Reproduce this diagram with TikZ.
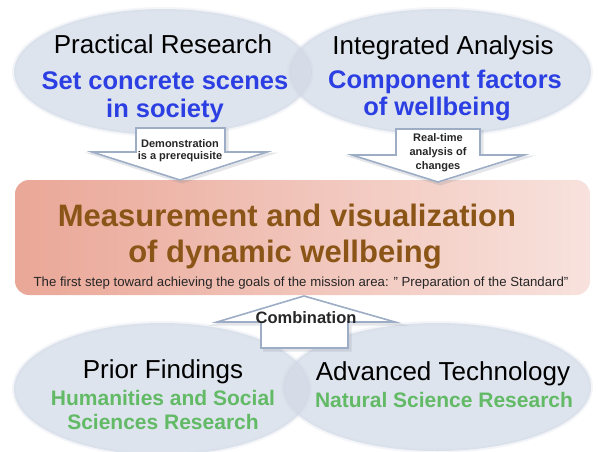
\documentclass[tikz,border=0pt]{standalone}
\usepackage{fontspec}
\setmainfont{Liberation Sans}
\usetikzlibrary{shapes.geometric}

\definecolor{ellcol}{HTML}{D2DAE7}
\definecolor{bluetxt}{HTML}{2B3FE3}
\definecolor{greentxt}{HTML}{62BA66}
\definecolor{browntxt}{HTML}{8A5517}
\definecolor{arrline}{HTML}{9DADC6}
\definecolor{boxleft}{HTML}{EAA797}
\definecolor{boxright}{HTML}{F8E2DD}

\tikzset{
  bubble/.style={ellipse, inner sep=0pt, draw=none, fill=ellcol, fill opacity=0.72},
  bubblerim/.style={ellipse, inner sep=0pt, draw=ellcol, line width=4pt, draw opacity=0.25, fill=none},
  headtxt/.style={anchor=base, text=black, font=\fontsize{26}{30}\selectfont},
  bluetext/.style={anchor=base, text=bluetxt, font=\fontsize{25.5}{30}\selectfont\bfseries},
  greentext/.style={anchor=base, text=greentxt, font=\fontsize{21}{25}\selectfont\bfseries},
  titletxt/.style={anchor=base, text=browntxt, font=\fontsize{31}{36}\selectfont\bfseries},
  subtxt/.style={anchor=base, text=black!85, font=\fontsize{13.2}{15}\selectfont},
  arrowtxt/.style={align=center, text=black!85, inner sep=0pt},
  blockarrow/.style={draw=arrline, line width=1.6pt, fill=white, line join=miter},
  arrowshade/.style={draw=arrline!70!black, line width=3pt, draw opacity=0.18},
}

\begin{document}
\begin{tikzpicture}[x=1pt, y=-1pt]
  \useasboundingbox (0,0) rectangle (598,451);
  \fill[white] (0,0) rectangle (598,451);

  % upper bubbles
  \node[bubble, minimum width=298, minimum height=126] (prac) at (163,72) {};
  \node[bubblerim, minimum width=298, minimum height=126] (pracrim) at (163,72) {};
  \node[headtxt] (pracA) at (163,53) {Practical Research};
  \node[bluetext] (pracB) at (165,89) {Set concrete scenes};
  \node[bluetext] (pracC) at (165,117) {in society};

  \node[bubble, minimum width=302, minimum height=126] (integ) at (440,72) {};
  \node[bubblerim, minimum width=302, minimum height=126] (integrim) at (440,72) {};
  \node[headtxt] (integA) at (443,54) {Integrated Analysis};
  \node[bluetext] (integB) at (445,88) {Component factors};
  \node[bluetext] (integC) at (437,115) {of wellbeing};

  % lower bubbles
  \node[bubble, minimum width=296, minimum height=132] (prior) at (162,389) {};
  \node[bubblerim, minimum width=296, minimum height=132] (priorrim) at (162,389) {};
  \node[headtxt] (priorA) at (163,378) {Prior Findings};
  \node[greentext] (priorB) at (163,405) {Humanities and Social};
  \node[greentext] (priorC) at (163,429) {Sciences Research};

  \node[bubble, minimum width=308, minimum height=128] (adv) at (437,387) {};
  \node[bubblerim, minimum width=308, minimum height=128] (advrim) at (437,387) {};
  \node[headtxt] (advA) at (443,380) {Advanced Technology};
  \node[greentext] (advB) at (444,407) {Natural Science Research};

  % central panel
  \shade[left color=boxleft, right color=boxright, rounded corners=14pt]
    (15,180) rectangle (590,295);
  \node[titletxt] (titleA) at (287,226) {Measurement and visualization};
  \node[titletxt] (titleB) at (285,262) {of dynamic wellbeing};
  \node[subtxt] (titleC) at (301,286) {The first step toward achieving the goals of the mission area: " Preparation of the Standard"};

  % block arrow: demonstration
  \draw[arrowshade] (137,130) -- (227,130) -- (227,154) -- (269,154) -- (182,182) -- (94,154) -- (137,154);
  \draw[blockarrow] (136,128) -- (225,128) -- (225,152) -- (267,152) -- (180,180) -- (92,152) -- (136,152) -- cycle;
  \node[arrowtxt, font=\fontsize{11}{12}\selectfont\bfseries] (demo) at (180,151) {Demonstration\\is a prerequisite};

  % block arrow: real-time analysis
  \draw[arrowshade] (398,131) -- (482,131) -- (482,157) -- (526,157) -- (440,184) -- (354,157) -- (398,157);
  \draw[blockarrow] (396,129) -- (480,129) -- (480,155) -- (524,155) -- (438,182) -- (352,155) -- (396,155) -- cycle;
  \node[arrowtxt, font=\fontsize{11}{14}\selectfont\bfseries] (realtime) at (438,153) {Real-time\\analysis of\\changes};

  % block arrow: combination
  \draw[arrowshade] (263,350) -- (350,350) -- (350,324) -- (397,324) -- (305,298) -- (219,324) -- (263,324);
  \draw[blockarrow] (261,348) -- (348,348) -- (348,322) -- (395,322) -- (304,296) -- (217,322) -- (261,322) -- cycle;
  \node[arrowtxt, anchor=base, font=\fontsize{16.5}{20}\selectfont\bfseries] (combi) at (306,323) {Combination};
\end{tikzpicture}
\end{document}
